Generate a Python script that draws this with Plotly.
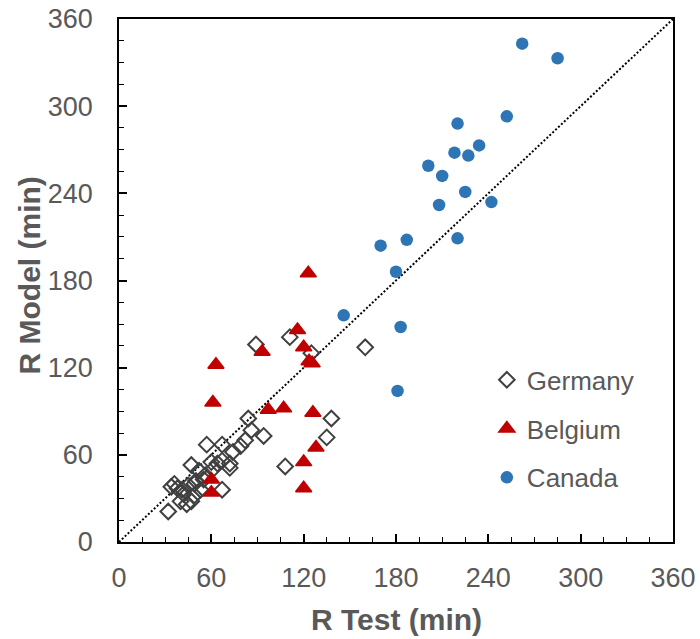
import plotly.graph_objects as go

# ---- data (R Test, R Model in minutes) ----
germany_x = [89, 111, 125, 160, 138, 135, 108,
             84, 86, 94, 82, 79, 74, 72, 67, 64,
             57, 67, 60, 72, 47, 52, 56,
             67, 53, 49, 45, 36, 34, 38, 41, 42,
             49, 44, 40, 47, 32, 50, 55, 61]
germany_y = [136, 141, 130, 134, 85, 72, 52,
             85, 77, 73, 70, 66, 62, 54, 56, 54,
             67, 67, 55, 51, 53, 49, 46,
             36, 36, 40, 39, 40, 38, 37, 36, 33,
             32, 26, 28, 28, 21, 42, 43, 50]

belgium_x = [123, 116, 93, 120, 123.5, 125.5, 63, 61, 97, 107, 126, 128, 120, 120, 60, 60]
belgium_y = [185, 146, 131, 134, 124.5, 123, 122, 96, 91, 92, 89, 65, 55, 37, 43, 34]

canada_x = [262, 285, 252, 220, 218, 227, 234, 201, 210, 225, 208, 242, 170, 187, 220, 180, 146, 183, 181]
canada_y = [343, 333, 293, 288, 268, 266, 273, 259, 252, 241, 232, 234, 204, 208, 209, 186, 156, 148, 104]

axis_range = [0, 360]
tick_vals = [0, 60, 120, 180, 240, 300, 360]

FONT = "Liberation Sans, Arial, sans-serif"
TXT = "#595959"

fig = go.Figure()

fig.add_trace(go.Scatter(
    x=axis_range, y=axis_range, mode="lines",
    line=dict(color="black", width=2, dash="2px,2px"),
    showlegend=False, hoverinfo="skip"))

fig.add_trace(go.Scatter(
    x=germany_x, y=germany_y, mode="markers", name="Germany",
    legendgroup="g",
    marker=dict(symbol="diamond-open", size=12, color="#404040",
                line=dict(width=2, color="#404040"))))

fig.add_trace(go.Scatter(
    x=belgium_x, y=belgium_y, mode="markers", name="Belgium",
    legendgroup="b",
    marker=dict(symbol="triangle-up", size=14, color="#C00000",
                line=dict(width=1.5, color="#C00000"))))

fig.add_trace(go.Scatter(
    x=canada_x, y=canada_y, mode="markers", name="Canada",
    legendgroup="c",
    marker=dict(symbol="circle", size=12.5, color="#2E75B6",
                line=dict(width=0))))

axis_common = dict(
    range=axis_range, tickvals=tick_vals, showgrid=False, zeroline=False,
    showline=True, linecolor="black", linewidth=1.5, mirror=True,
    ticks="inside", ticklen=8, tickwidth=1.5, tickcolor="black",
    minor=dict(ticks="inside", ticklen=5, tickwidth=1.2, tickcolor="black", dtick=15, showgrid=False),
    tickfont=dict(family=FONT, size=27, color=TXT),
    automargin=False, ticklabeloverflow="allow",
)

fig.update_xaxes(**axis_common, ticklabelstandoff=11)
fig.update_yaxes(**axis_common, ticklabelstandoff=19)

fig.add_annotation(text="<b>R Test (min)</b>", xref="paper", yref="paper",
                   x=0.5, y=0, yshift=-77, xanchor="center", yanchor="middle",
                   showarrow=False, font=dict(family=FONT, size=30, color=TXT))
fig.add_annotation(text="<b>R Model (min)</b>", xref="paper", yref="paper",
                   x=0, y=0.5, xshift=-90, yshift=5, xanchor="center", yanchor="middle",
                   textangle=-90, showarrow=False, font=dict(family=FONT, size=30, color=TXT))

fig.update_layout(
    width=700, height=639,
    margin=dict(l=119, r=27, t=19, b=97, autoexpand=False),
    plot_bgcolor="white", paper_bgcolor="white",
    showlegend=True,
    legend=dict(x=0.664, y=0.355, xanchor="left", yanchor="top",
                bgcolor="rgba(0,0,0,0)", traceorder="grouped", tracegroupgap=12,
                font=dict(family=FONT, size=26, color=TXT)),
)

fig.write_html("out.html",
               config={"displayModeBar": False},
               post_script="document.body.style.margin='0';document.body.style.overflow='hidden';")
